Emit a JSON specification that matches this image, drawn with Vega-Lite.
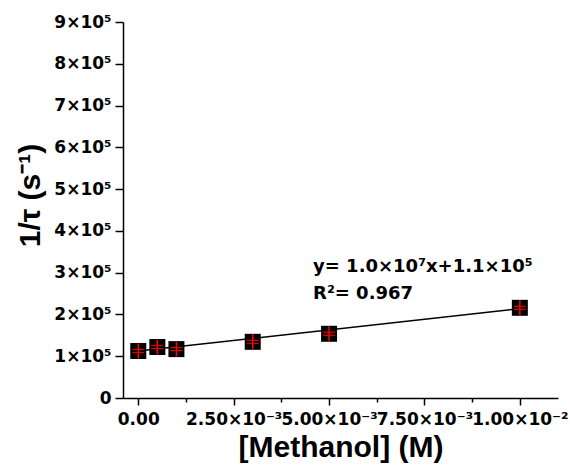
{
  "$schema": "https://vega.github.io/schema/vega-lite/v6.json",
  "width": 435,
  "height": 376,
  "autosize": "none",
  "padding": {"left": 123, "top": 22, "right": 12, "bottom": 71},
  "background": "white",
  "config": {"view": {"stroke": null}},
  "datasets": {
    "pts": [
      {"conc": 0.0, "rate": 112500},
      {"conc": 0.0005, "rate": 122000},
      {"conc": 0.001, "rate": 117000},
      {"conc": 0.003, "rate": 134500},
      {"conc": 0.005, "rate": 153700},
      {"conc": 0.01, "rate": 215900}
    ],
    "fit": [
      {"conc": 0.0, "rate": 112500},
      {"conc": 0.01, "rate": 214000}
    ],
    "ann": [
      {"conc": 0.00458, "rate": 302300, "t": "y= 1.0×10⁷x+1.1×10⁵"},
      {"conc": 0.00458, "rate": 237000, "t": "R²= 0.967"}
    ]
  },
  "layer": [
    {
      "data": {"name": "fit"},
      "mark": {"type": "line", "color": "black", "strokeWidth": 1.5},
      "encoding": {
        "x": {
          "field": "conc", "type": "quantitative",
          "scale": {"domain": [-0.0004, 0.011], "nice": false, "zero": false},
          "axis": {
            "title": "[Methanol] (M)",
            "values": [0, 0.00125, 0.0025, 0.00375, 0.005, 0.00625, 0.0075, 0.00875, 0.01],
            "labelExpr": "datum.value == 0 ? '0.00' : (round(datum.value*800) % 2 == 1 ? '' : (datum.value >= 0.0099 ? '1.00×10⁻²' : format(datum.value*1000, '.2f') + '×10⁻³'))",
            "labelFont": "DejaVu Sans", "labelFontWeight": "bold", "labelFontSize": 17, "labelColor": "black",
            "labelFlush": false, "labelOverlap": false, "labelPadding": 6,
            "titleFont": "Liberation Sans", "titleFontWeight": "bold", "titleFontSize": 30, "titleColor": "black", "titlePadding": 5,
            "domainColor": "black", "domainWidth": 1.5,
            "tickColor": "black", "tickWidth": 1.5,
            "tickSize": {"condition": {"test": "round(datum.value*800) % 2 == 0", "value": 7}, "value": 4},
            "grid": false
          }
        },
        "y": {
          "field": "rate", "type": "quantitative",
          "scale": {"domain": [0, 900000], "nice": false},
          "axis": {
            "title": "1/τ (s⁻¹)",
            "titleY": 173,
            "values": [0, 50000, 100000, 150000, 200000, 250000, 300000, 350000, 400000, 450000, 500000, 550000, 600000, 650000, 700000, 750000, 800000, 850000, 900000],
            "labelExpr": "datum.value == 0 ? '0' : (datum.value % 100000 != 0 ? '' : format(datum.value/100000, 'd') + '×10⁵')",
            "labelFont": "DejaVu Sans", "labelFontWeight": "bold", "labelFontSize": 17, "labelColor": "black",
            "labelFlush": false, "labelOverlap": false, "labelPadding": 4,
            "titleFont": "Liberation Sans", "titleFontWeight": "bold", "titleFontSize": 30, "titleColor": "black", "titlePadding": 8,
            "domainColor": "black", "domainWidth": 1.5,
            "tickColor": "black", "tickWidth": 1.5,
            "tickSize": {"condition": {"test": "datum.value % 100000 == 0", "value": 8}, "value": 4},
            "grid": false
          }
        }
      }
    },
    {
      "data": {"name": "pts"},
      "mark": {"type": "square", "filled": true, "color": "black", "opacity": 1, "size": 256},
      "encoding": {
        "x": {"field": "conc", "type": "quantitative"},
        "y": {"field": "rate", "type": "quantitative"}
      }
    },
    {
      "data": {"name": "pts"},
      "mark": {"type": "tick", "orient": "vertical", "color": "#ff0000", "size": 15, "thickness": 1.5, "opacity": 1},
      "encoding": {
        "x": {"field": "conc", "type": "quantitative"},
        "y": {"field": "rate", "type": "quantitative"}
      }
    },
    {
      "data": {"name": "pts"},
      "mark": {"type": "tick", "orient": "horizontal", "color": "#e00000", "size": 12, "thickness": 1.2, "opacity": 1, "yOffset": -1.5},
      "encoding": {
        "x": {"field": "conc", "type": "quantitative"},
        "y": {"field": "rate", "type": "quantitative"}
      }
    },
    {
      "data": {"name": "pts"},
      "mark": {"type": "tick", "orient": "horizontal", "color": "#e00000", "size": 12, "thickness": 1.2, "opacity": 1, "yOffset": 1.5},
      "encoding": {
        "x": {"field": "conc", "type": "quantitative"},
        "y": {"field": "rate", "type": "quantitative"}
      }
    },
    {
      "data": {"name": "ann"},
      "mark": {"type": "text", "align": "left", "baseline": "alphabetic", "font": "DejaVu Sans", "fontWeight": "bold", "fontSize": 18, "color": "black"},
      "encoding": {
        "x": {"field": "conc", "type": "quantitative"},
        "y": {"field": "rate", "type": "quantitative"},
        "text": {"field": "t", "type": "nominal"}
      }
    }
  ]
}
